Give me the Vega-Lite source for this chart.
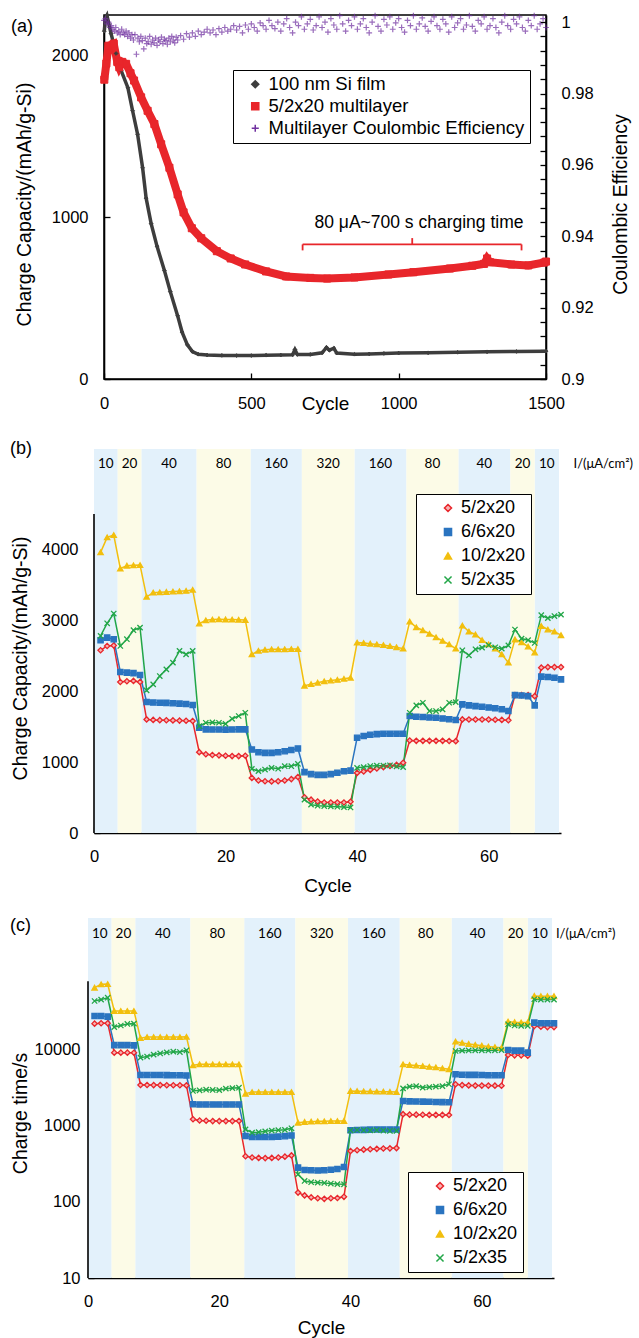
{
"$schema": "https://vega.github.io/schema/vega-lite/v6.json",
"background": "white",
"padding": {"left": 0, "top": 7, "right": 2, "bottom": 2},
"spacing": 22,
"resolve": {"scale": {"stroke": "independent", "fill": "independent", "shape": "independent"}, "legend": {"stroke": "independent", "fill": "independent", "shape": "independent"}},
"config": {
  "font": "Liberation Sans",
  "view": {"stroke": null},
  "axis": {"grid": false, "domainColor": "black", "domainWidth": 1.6, "tickColor": "black", "tickWidth": 1.3, "tickSize": -6, "labelColor": "black", "labelFontSize": 16.5, "labelFont": "Liberation Sans", "titleFont": "Liberation Sans", "titleFontSize": 19, "titleFontWeight": "normal", "titleColor": "black", "labelFlush": false, "labelOverlap": false},
  "legend": {"strokeColor": "black", "fillColor": "white", "padding": 5, "labelFontSize": 18, "labelFont": "Liberation Sans", "labelColor": "black", "symbolStrokeWidth": 1.5, "symbolSize": 50, "rowPadding": 6, "labelLimit": 400},
  "title": {"anchor": "start", "frame": "group", "fontSize": 18, "fontWeight": "normal", "baseline": "bottom", "font": "Liberation Sans", "color": "black"}
},
"datasets": {
  "capA": [
    {"cycle":1,"cap":2150,"series":"100 nm Si film"},{"cycle":5,"cap":2230,"series":"100 nm Si film"},{"cycle":10,"cap":2248,"series":"100 nm Si film"},{"cycle":24,"cap":2135,"series":"100 nm Si film"},{"cycle":41,"cap":2012,"series":"100 nm Si film"},{"cycle":58,"cap":1907,"series":"100 nm Si film"},{"cycle":81,"cap":1801,"series":"100 nm Si film"},{"cycle":97,"cap":1658,"series":"100 nm Si film"},{"cycle":114,"cap":1513,"series":"100 nm Si film"},{"cycle":131,"cap":1306,"series":"100 nm Si film"},{"cycle":143,"cap":1118,"series":"100 nm Si film"},{"cycle":160,"cap":960,"series":"100 nm Si film"},{"cycle":180,"cap":820,"series":"100 nm Si film"},{"cycle":205,"cap":670,"series":"100 nm Si film"},{"cycle":225,"cap":540,"series":"100 nm Si film"},{"cycle":250,"cap":390,"series":"100 nm Si film"},{"cycle":265,"cap":290,"series":"100 nm Si film"},{"cycle":283,"cap":211,"series":"100 nm Si film"},{"cycle":300,"cap":170,"series":"100 nm Si film"},{"cycle":320,"cap":153,"series":"100 nm Si film"},{"cycle":350,"cap":148,"series":"100 nm Si film"},{"cycle":400,"cap":146,"series":"100 nm Si film"},{"cycle":450,"cap":145,"series":"100 nm Si film"},{"cycle":500,"cap":145,"series":"100 nm Si film"},{"cycle":550,"cap":147,"series":"100 nm Si film"},{"cycle":600,"cap":148,"series":"100 nm Si film"},{"cycle":640,"cap":150,"series":"100 nm Si film"},{"cycle":648,"cap":182,"series":"100 nm Si film"},{"cycle":656,"cap":152,"series":"100 nm Si film"},{"cycle":700,"cap":152,"series":"100 nm Si film"},{"cycle":740,"cap":162,"series":"100 nm Si film"},{"cycle":755,"cap":195,"series":"100 nm Si film"},{"cycle":765,"cap":178,"series":"100 nm Si film"},{"cycle":780,"cap":190,"series":"100 nm Si film"},{"cycle":790,"cap":160,"series":"100 nm Si film"},{"cycle":850,"cap":153,"series":"100 nm Si film"},{"cycle":900,"cap":155,"series":"100 nm Si film"},{"cycle":950,"cap":158,"series":"100 nm Si film"},{"cycle":1000,"cap":160,"series":"100 nm Si film"},{"cycle":1100,"cap":162,"series":"100 nm Si film"},{"cycle":1200,"cap":165,"series":"100 nm Si film"},{"cycle":1300,"cap":168,"series":"100 nm Si film"},{"cycle":1400,"cap":170,"series":"100 nm Si film"},{"cycle":1500,"cap":172,"series":"100 nm Si film"},
    {"cycle":1,"cap":1850,"series":"5/2x20 multilayer"},{"cycle":8,"cap":1950,"series":"5/2x20 multilayer"},{"cycle":15,"cap":2060,"series":"5/2x20 multilayer"},{"cycle":33,"cap":2073,"series":"5/2x20 multilayer"},{"cycle":45,"cap":1960,"series":"5/2x20 multilayer"},{"cycle":52,"cap":1927,"series":"5/2x20 multilayer"},{"cycle":62,"cap":1960,"series":"5/2x20 multilayer"},{"cycle":75,"cap":1948,"series":"5/2x20 multilayer"},{"cycle":90,"cap":1890,"series":"5/2x20 multilayer"},{"cycle":102,"cap":1845,"series":"5/2x20 multilayer"},{"cycle":126,"cap":1741,"series":"5/2x20 multilayer"},{"cycle":148,"cap":1658,"series":"5/2x20 multilayer"},{"cycle":171,"cap":1576,"series":"5/2x20 multilayer"},{"cycle":194,"cap":1451,"series":"5/2x20 multilayer"},{"cycle":222,"cap":1306,"series":"5/2x20 multilayer"},{"cycle":250,"cap":1141,"series":"5/2x20 multilayer"},{"cycle":270,"cap":1030,"series":"5/2x20 multilayer"},{"cycle":298,"cap":932,"series":"5/2x20 multilayer"},{"cycle":330,"cap":870,"series":"5/2x20 multilayer"},{"cycle":383,"cap":790,"series":"5/2x20 multilayer"},{"cycle":430,"cap":745,"series":"5/2x20 multilayer"},{"cycle":479,"cap":708,"series":"5/2x20 multilayer"},{"cycle":550,"cap":665,"series":"5/2x20 multilayer"},{"cycle":618,"cap":634,"series":"5/2x20 multilayer"},{"cycle":700,"cap":625,"series":"5/2x20 multilayer"},{"cycle":757,"cap":621,"series":"5/2x20 multilayer"},{"cycle":850,"cap":628,"series":"5/2x20 multilayer"},{"cycle":965,"cap":646,"series":"5/2x20 multilayer"},{"cycle":1050,"cap":660,"series":"5/2x20 multilayer"},{"cycle":1174,"cap":683,"series":"5/2x20 multilayer"},{"cycle":1250,"cap":700,"series":"5/2x20 multilayer"},{"cycle":1290,"cap":712,"series":"5/2x20 multilayer"},{"cycle":1300,"cap":745,"series":"5/2x20 multilayer"},{"cycle":1310,"cap":722,"series":"5/2x20 multilayer"},{"cycle":1382,"cap":708,"series":"5/2x20 multilayer"},{"cycle":1440,"cap":702,"series":"5/2x20 multilayer"},{"cycle":1494,"cap":720,"series":"5/2x20 multilayer"},{"cycle":1500,"cap":726,"series":"5/2x20 multilayer"}
  ],
  "ce": [
    {"c":0,"e":1.0005},{"c":5,"e":1.001},{"c":10,"e":0.9995},{"c":15,"e":1.0},{"c":20,"e":0.9985},{"c":25,"e":0.999},{"c":30,"e":0.998},{"c":35,"e":0.9975},{"c":40,"e":0.9985},{"c":45,"e":0.997},{"c":50,"e":0.9975},{"c":55,"e":0.9965},{"c":60,"e":0.998},{"c":65,"e":0.997},{"c":70,"e":0.9965},{"c":75,"e":0.9975},{"c":80,"e":0.996},{"c":85,"e":0.997},{"c":90,"e":0.9955},{"c":95,"e":0.9965},{"c":100,"e":0.995},{"c":105,"e":0.9965},{"c":110,"e":0.991},{"c":115,"e":0.9955},{"c":120,"e":0.9945},{"c":125,"e":0.996},{"c":130,"e":0.9948},{"c":135,"e":0.9925},{"c":140,"e":0.9955},{"c":145,"e":0.994},{"c":150,"e":0.9945},{"c":155,"e":0.996},{"c":160,"e":0.9938},{"c":165,"e":0.995},{"c":170,"e":0.9942},{"c":175,"e":0.9955},{"c":180,"e":0.9935},{"c":185,"e":0.995},{"c":190,"e":0.9945},{"c":195,"e":0.9958},{"c":200,"e":0.994},{"c":205,"e":0.9952},{"c":210,"e":0.9948},{"c":215,"e":0.9938},{"c":220,"e":0.9955},{"c":225,"e":0.9945},{"c":230,"e":0.996},{"c":235,"e":0.995},{"c":240,"e":0.9942},{"c":245,"e":0.9958},{"c":250,"e":0.995},{"c":260,"e":0.9962},{"c":270,"e":0.9952},{"c":280,"e":0.9968},{"c":290,"e":0.9958},{"c":300,"e":0.997},{"c":310,"e":0.996},{"c":320,"e":0.9975},{"c":330,"e":0.9965},{"c":340,"e":0.9972},{"c":350,"e":0.998},{"c":360,"e":0.997},{"c":370,"e":0.9978},{"c":380,"e":0.9965},{"c":390,"e":0.9982},{"c":400,"e":0.9972},{"c":410,"e":0.9985},{"c":420,"e":0.9975},{"c":430,"e":0.998},{"c":440,"e":0.999},{"c":450,"e":0.9978},{"c":460,"e":0.9988},{"c":470,"e":0.997},{"c":480,"e":0.9992},{"c":490,"e":0.998},{"c":500,"e":0.9995},{"c":510,"e":0.9985},{"c":520,"e":0.9975},{"c":530,"e":0.9998},{"c":540,"e":0.999},{"c":550,"e":0.998},{"c":560,"e":1.0005},{"c":570,"e":0.999},{"c":580,"e":0.9982},{"c":590,"e":1.0},{"c":600,"e":0.9975},{"c":610,"e":0.9995},{"c":620,"e":1.001},{"c":630,"e":0.9985},{"c":640,"e":0.997},{"c":650,"e":1.0},{"c":660,"e":0.999},{"c":670,"e":1.0015},{"c":680,"e":0.998},{"c":690,"e":0.9995},{"c":700,"e":1.0008},{"c":710,"e":0.9978},{"c":720,"e":0.999},{"c":730,"e":1.0015},{"c":740,"e":0.9985},{"c":750,"e":1.0},{"c":760,"e":0.9972},{"c":770,"e":1.001},{"c":780,"e":0.9992},{"c":790,"e":0.998},{"c":800,"e":1.0018},{"c":810,"e":0.9995},{"c":820,"e":0.9975},{"c":830,"e":1.0005},{"c":840,"e":0.999},{"c":850,"e":1.0015},{"c":860,"e":0.998},{"c":870,"e":0.9995},{"c":880,"e":1.001},{"c":890,"e":0.9985},{"c":900,"e":0.997},{"c":910,"e":1.0},{"c":920,"e":1.0018},{"c":930,"e":0.9988},{"c":940,"e":0.9975},{"c":950,"e":1.0008},{"c":960,"e":0.9992},{"c":970,"e":1.0015},{"c":980,"e":0.998},{"c":990,"e":0.9998},{"c":1000,"e":1.001},{"c":1010,"e":0.9985},{"c":1020,"e":0.9972},{"c":1030,"e":1.0005},{"c":1040,"e":0.999},{"c":1050,"e":1.0018},{"c":1060,"e":0.998},{"c":1070,"e":0.9995},{"c":1080,"e":1.0012},{"c":1090,"e":0.9988},{"c":1100,"e":0.9975},{"c":1110,"e":1.0002},{"c":1120,"e":1.0015},{"c":1130,"e":0.999},{"c":1140,"e":0.998},{"c":1150,"e":1.0008},{"c":1160,"e":0.9995},{"c":1170,"e":0.9972},{"c":1180,"e":1.0015},{"c":1190,"e":0.9985},{"c":1200,"e":0.9998},{"c":1210,"e":1.001},{"c":1220,"e":0.998},{"c":1230,"e":0.9992},{"c":1240,"e":1.0018},{"c":1250,"e":0.9988},{"c":1260,"e":0.9975},{"c":1270,"e":1.0005},{"c":1280,"e":0.9995},{"c":1290,"e":1.0015},{"c":1300,"e":0.998},{"c":1310,"e":0.999},{"c":1320,"e":1.001},{"c":1330,"e":0.9985},{"c":1340,"e":0.997},{"c":1350,"e":1.0},{"c":1360,"e":1.0018},{"c":1370,"e":0.999},{"c":1380,"e":0.998},{"c":1390,"e":1.0008},{"c":1400,"e":0.9995},{"c":1410,"e":1.0015},{"c":1420,"e":0.9985},{"c":1430,"e":0.9975},{"c":1440,"e":1.0005},{"c":1450,"e":0.999},{"c":1460,"e":1.0018},{"c":1470,"e":0.998},{"c":1480,"e":0.9995},{"c":1490,"e":1.001},{"c":1500,"e":0.9985}
  ],
  "bracket": [
    {"c1":674,"c2":1417,"v1":832,"v2":832},{"c1":674,"c2":674,"v1":832,"v2":795},{"c1":1417,"c2":1417,"v1":832,"v2":795},{"c1":1046,"c2":1046,"v1":832,"v2":871}
  ],
  "bands": [
    {"start":0,"end":3.6,"mid":1.8,"I":"10","kind":"b"},{"start":3.6,"end":7.2,"mid":5.4,"I":"20","kind":"y"},{"start":7.2,"end":15.6,"mid":11.4,"I":"40","kind":"b"},{"start":15.6,"end":23.8,"mid":19.7,"I":"80","kind":"y"},{"start":23.8,"end":31.6,"mid":27.7,"I":"160","kind":"b"},{"start":31.6,"end":39.6,"mid":35.6,"I":"320","kind":"y"},{"start":39.6,"end":47.5,"mid":43.55,"I":"160","kind":"b"},{"start":47.5,"end":55.4,"mid":51.45,"I":"80","kind":"y"},{"start":55.4,"end":63.3,"mid":59.35,"I":"40","kind":"b"},{"start":63.3,"end":67.0,"mid":65.15,"I":"20","kind":"y"},{"start":67.0,"end":70.7,"mid":68.85,"I":"10","kind":"b"}
  ],
  "tabB": [
    {"cycle":1,"5/2x20":2577,"6/6x20":2718,"10/2x20":3958,"5/2x35":2780},
    {"cycle":2,"5/2x20":2638,"6/6x20":2756,"10/2x20":4170,"5/2x35":2958},
    {"cycle":3,"5/2x20":2645,"6/6x20":2733,"10/2x20":4202,"5/2x35":3095},
    {"cycle":4,"5/2x20":2130,"6/6x20":2271,"10/2x20":3731,"5/2x35":2638},
    {"cycle":5,"5/2x20":2140,"6/6x20":2262,"10/2x20":3770,"5/2x35":2733},
    {"cycle":6,"5/2x20":2145,"6/6x20":2255,"10/2x20":3775,"5/2x35":2860},
    {"cycle":7,"5/2x20":2130,"6/6x20":2229,"10/2x20":3780,"5/2x35":2897},
    {"cycle":8,"5/2x20":1602,"6/6x20":1847,"10/2x20":3331,"5/2x35":2011},
    {"cycle":9,"5/2x20":1595,"6/6x20":1840,"10/2x20":3390,"5/2x35":2096},
    {"cycle":10,"5/2x20":1592,"6/6x20":1838,"10/2x20":3395,"5/2x35":2214},
    {"cycle":11,"5/2x20":1590,"6/6x20":1835,"10/2x20":3400,"5/2x35":2308},
    {"cycle":12,"5/2x20":1588,"6/6x20":1830,"10/2x20":3405,"5/2x35":2403},
    {"cycle":13,"5/2x20":1585,"6/6x20":1825,"10/2x20":3410,"5/2x35":2568},
    {"cycle":14,"5/2x20":1583,"6/6x20":1820,"10/2x20":3415,"5/2x35":2520},
    {"cycle":15,"5/2x20":1580,"6/6x20":1805,"10/2x20":3430,"5/2x35":2568},
    {"cycle":16,"5/2x20":1140,"6/6x20":1484,"10/2x20":2954,"5/2x35":1508},
    {"cycle":17,"5/2x20":1110,"6/6x20":1462,"10/2x20":3000,"5/2x35":1555},
    {"cycle":18,"5/2x20":1100,"6/6x20":1460,"10/2x20":3010,"5/2x35":1560},
    {"cycle":19,"5/2x20":1095,"6/6x20":1460,"10/2x20":3015,"5/2x35":1555},
    {"cycle":20,"5/2x20":1090,"6/6x20":1458,"10/2x20":3012,"5/2x35":1540},
    {"cycle":21,"5/2x20":1085,"6/6x20":1460,"10/2x20":3010,"5/2x35":1611},
    {"cycle":22,"5/2x20":1085,"6/6x20":1462,"10/2x20":3008,"5/2x35":1650},
    {"cycle":23,"5/2x20":1090,"6/6x20":1462,"10/2x20":3005,"5/2x35":1696},
    {"cycle":24,"5/2x20":777,"6/6x20":1177,"10/2x20":2520,"5/2x35":905},
    {"cycle":25,"5/2x20":740,"6/6x20":1140,"10/2x20":2570,"5/2x35":872},
    {"cycle":26,"5/2x20":730,"6/6x20":1130,"10/2x20":2585,"5/2x35":895},
    {"cycle":27,"5/2x20":728,"6/6x20":1130,"10/2x20":2590,"5/2x35":919},
    {"cycle":28,"5/2x20":730,"6/6x20":1140,"10/2x20":2590,"5/2x35":906},
    {"cycle":29,"5/2x20":740,"6/6x20":1154,"10/2x20":2592,"5/2x35":942},
    {"cycle":30,"5/2x20":760,"6/6x20":1170,"10/2x20":2595,"5/2x35":942},
    {"cycle":31,"5/2x20":790,"6/6x20":1192,"10/2x20":2595,"5/2x35":975},
    {"cycle":32,"5/2x20":504,"6/6x20":858,"10/2x20":2077,"5/2x35":471},
    {"cycle":33,"5/2x20":470,"6/6x20":830,"10/2x20":2100,"5/2x35":400},
    {"cycle":34,"5/2x20":445,"6/6x20":820,"10/2x20":2120,"5/2x35":385},
    {"cycle":35,"5/2x20":430,"6/6x20":820,"10/2x20":2140,"5/2x35":380},
    {"cycle":36,"5/2x20":430,"6/6x20":830,"10/2x20":2150,"5/2x35":375},
    {"cycle":37,"5/2x20":430,"6/6x20":850,"10/2x20":2160,"5/2x35":370},
    {"cycle":38,"5/2x20":430,"6/6x20":870,"10/2x20":2175,"5/2x35":365},
    {"cycle":39,"5/2x20":440,"6/6x20":880,"10/2x20":2190,"5/2x35":360},
    {"cycle":40,"5/2x20":848,"6/6x20":1343,"10/2x20":2685,"5/2x35":919},
    {"cycle":41,"5/2x20":868,"6/6x20":1367,"10/2x20":2680,"5/2x35":930},
    {"cycle":42,"5/2x20":890,"6/6x20":1385,"10/2x20":2670,"5/2x35":945},
    {"cycle":43,"5/2x20":910,"6/6x20":1395,"10/2x20":2660,"5/2x35":950},
    {"cycle":44,"5/2x20":930,"6/6x20":1400,"10/2x20":2650,"5/2x35":950},
    {"cycle":45,"5/2x20":945,"6/6x20":1400,"10/2x20":2635,"5/2x35":955},
    {"cycle":46,"5/2x20":960,"6/6x20":1400,"10/2x20":2620,"5/2x35":940},
    {"cycle":47,"5/2x20":990,"6/6x20":1400,"10/2x20":2600,"5/2x35":930},
    {"cycle":48,"5/2x20":1305,"6/6x20":1650,"10/2x20":2982,"5/2x35":1696},
    {"cycle":49,"5/2x20":1300,"6/6x20":1640,"10/2x20":2900,"5/2x35":1800},
    {"cycle":50,"5/2x20":1300,"6/6x20":1635,"10/2x20":2860,"5/2x35":1837},
    {"cycle":51,"5/2x20":1300,"6/6x20":1630,"10/2x20":2810,"5/2x35":1720},
    {"cycle":52,"5/2x20":1300,"6/6x20":1625,"10/2x20":2760,"5/2x35":1720},
    {"cycle":53,"5/2x20":1300,"6/6x20":1615,"10/2x20":2710,"5/2x35":1743},
    {"cycle":54,"5/2x20":1298,"6/6x20":1605,"10/2x20":2660,"5/2x35":1837},
    {"cycle":55,"5/2x20":1295,"6/6x20":1593,"10/2x20":2600,"5/2x35":1846},
    {"cycle":56,"5/2x20":1602,"6/6x20":1814,"10/2x20":2926,"5/2x35":2577},
    {"cycle":57,"5/2x20":1600,"6/6x20":1800,"10/2x20":2840,"5/2x35":2506},
    {"cycle":58,"5/2x20":1600,"6/6x20":1790,"10/2x20":2800,"5/2x35":2591},
    {"cycle":59,"5/2x20":1600,"6/6x20":1780,"10/2x20":2720,"5/2x35":2615},
    {"cycle":60,"5/2x20":1600,"6/6x20":1770,"10/2x20":2660,"5/2x35":2650},
    {"cycle":61,"5/2x20":1598,"6/6x20":1760,"10/2x20":2600,"5/2x35":2620},
    {"cycle":62,"5/2x20":1595,"6/6x20":1745,"10/2x20":2520,"5/2x35":2600},
    {"cycle":63,"5/2x20":1590,"6/6x20":1720,"10/2x20":2403,"5/2x35":2645},
    {"cycle":64,"5/2x20":1944,"6/6x20":1944,"10/2x20":2730,"5/2x35":2870},
    {"cycle":65,"5/2x20":1944,"6/6x20":1940,"10/2x20":2690,"5/2x35":2742},
    {"cycle":66,"5/2x20":1944,"6/6x20":1930,"10/2x20":2630,"5/2x35":2720},
    {"cycle":67,"5/2x20":1930,"6/6x20":1800,"10/2x20":2545,"5/2x35":2680},
    {"cycle":68,"5/2x20":2332,"6/6x20":2205,"10/2x20":2920,"5/2x35":3072},
    {"cycle":69,"5/2x20":2340,"6/6x20":2200,"10/2x20":2870,"5/2x35":3030},
    {"cycle":70,"5/2x20":2340,"6/6x20":2190,"10/2x20":2840,"5/2x35":3060},
    {"cycle":71,"5/2x20":2340,"6/6x20":2167,"10/2x20":2790,"5/2x35":3080}
  ],
  "tabC": [
    {"cycle":1,"5/2x20":22200,"6/6x20":28000,"10/2x20":66000,"5/2x35":44100},
    {"cycle":2,"5/2x20":22500,"6/6x20":28000,"10/2x20":73000,"5/2x35":46000},
    {"cycle":3,"5/2x20":22500,"6/6x20":27500,"10/2x20":73500,"5/2x35":48700},
    {"cycle":4,"5/2x20":9220,"6/6x20":11600,"10/2x20":32600,"5/2x35":20000},
    {"cycle":5,"5/2x20":9220,"6/6x20":11600,"10/2x20":32600,"5/2x35":21000},
    {"cycle":6,"5/2x20":9220,"6/6x20":11600,"10/2x20":32600,"5/2x35":22000},
    {"cycle":7,"5/2x20":9200,"6/6x20":11500,"10/2x20":32600,"5/2x35":22200},
    {"cycle":8,"5/2x20":3460,"6/6x20":4690,"10/2x20":14300,"5/2x35":7920},
    {"cycle":9,"5/2x20":3460,"6/6x20":4690,"10/2x20":14800,"5/2x35":8200},
    {"cycle":10,"5/2x20":3450,"6/6x20":4680,"10/2x20":14800,"5/2x35":8700},
    {"cycle":11,"5/2x20":3450,"6/6x20":4680,"10/2x20":14800,"5/2x35":9000},
    {"cycle":12,"5/2x20":3440,"6/6x20":4670,"10/2x20":14800,"5/2x35":9300},
    {"cycle":13,"5/2x20":3440,"6/6x20":4660,"10/2x20":14800,"5/2x35":9500},
    {"cycle":14,"5/2x20":3430,"6/6x20":4650,"10/2x20":14800,"5/2x35":9400},
    {"cycle":15,"5/2x20":3420,"6/6x20":4620,"10/2x20":14900,"5/2x35":9910},
    {"cycle":16,"5/2x20":1225,"6/6x20":1930,"10/2x20":6290,"5/2x35":2890},
    {"cycle":17,"5/2x20":1180,"6/6x20":1920,"10/2x20":6480,"5/2x35":2950},
    {"cycle":18,"5/2x20":1170,"6/6x20":1920,"10/2x20":6480,"5/2x35":3000},
    {"cycle":19,"5/2x20":1160,"6/6x20":1920,"10/2x20":6480,"5/2x35":2980},
    {"cycle":20,"5/2x20":1160,"6/6x20":1920,"10/2x20":6480,"5/2x35":2960},
    {"cycle":21,"5/2x20":1160,"6/6x20":1920,"10/2x20":6480,"5/2x35":3100},
    {"cycle":22,"5/2x20":1160,"6/6x20":1920,"10/2x20":6480,"5/2x35":3150},
    {"cycle":23,"5/2x20":1165,"6/6x20":1920,"10/2x20":6480,"5/2x35":3190},
    {"cycle":24,"5/2x20":400,"6/6x20":740,"10/2x20":2660,"5/2x35":904},
    {"cycle":25,"5/2x20":385,"6/6x20":720,"10/2x20":2800,"5/2x35":816},
    {"cycle":26,"5/2x20":380,"6/6x20":720,"10/2x20":2800,"5/2x35":830},
    {"cycle":27,"5/2x20":378,"6/6x20":715,"10/2x20":2800,"5/2x35":850},
    {"cycle":28,"5/2x20":380,"6/6x20":720,"10/2x20":2800,"5/2x35":870},
    {"cycle":29,"5/2x20":385,"6/6x20":725,"10/2x20":2800,"5/2x35":880},
    {"cycle":30,"5/2x20":395,"6/6x20":735,"10/2x20":2800,"5/2x35":890},
    {"cycle":31,"5/2x20":410,"6/6x20":750,"10/2x20":2800,"5/2x35":933},
    {"cycle":32,"5/2x20":133,"6/6x20":283,"10/2x20":1105,"5/2x35":231},
    {"cycle":33,"5/2x20":122,"6/6x20":264,"10/2x20":1130,"5/2x35":189},
    {"cycle":34,"5/2x20":115,"6/6x20":262,"10/2x20":1140,"5/2x35":182},
    {"cycle":35,"5/2x20":112,"6/6x20":260,"10/2x20":1150,"5/2x35":180},
    {"cycle":36,"5/2x20":110,"6/6x20":262,"10/2x20":1150,"5/2x35":178},
    {"cycle":37,"5/2x20":112,"6/6x20":266,"10/2x20":1160,"5/2x35":175},
    {"cycle":38,"5/2x20":113,"6/6x20":272,"10/2x20":1160,"5/2x35":172},
    {"cycle":39,"5/2x20":117,"6/6x20":289,"10/2x20":1165,"5/2x35":171},
    {"cycle":40,"5/2x20":469,"6/6x20":878,"10/2x20":2890,"5/2x35":878},
    {"cycle":41,"5/2x20":480,"6/6x20":885,"10/2x20":2870,"5/2x35":885},
    {"cycle":42,"5/2x20":488,"6/6x20":890,"10/2x20":2860,"5/2x35":880},
    {"cycle":43,"5/2x20":495,"6/6x20":895,"10/2x20":2850,"5/2x35":875},
    {"cycle":44,"5/2x20":500,"6/6x20":900,"10/2x20":2840,"5/2x35":880},
    {"cycle":45,"5/2x20":505,"6/6x20":900,"10/2x20":2830,"5/2x35":870},
    {"cycle":46,"5/2x20":508,"6/6x20":900,"10/2x20":2820,"5/2x35":860},
    {"cycle":47,"5/2x20":512,"6/6x20":900,"10/2x20":2800,"5/2x35":860},
    {"cycle":48,"5/2x20":1430,"6/6x20":2130,"10/2x20":6460,"5/2x35":3130},
    {"cycle":49,"5/2x20":1410,"6/6x20":2110,"10/2x20":6350,"5/2x35":3300},
    {"cycle":50,"5/2x20":1410,"6/6x20":2100,"10/2x20":6250,"5/2x35":3350},
    {"cycle":51,"5/2x20":1405,"6/6x20":2090,"10/2x20":6150,"5/2x35":3200},
    {"cycle":52,"5/2x20":1400,"6/6x20":2080,"10/2x20":6000,"5/2x35":3250},
    {"cycle":53,"5/2x20":1400,"6/6x20":2070,"10/2x20":5900,"5/2x35":3300},
    {"cycle":54,"5/2x20":1400,"6/6x20":2060,"10/2x20":5750,"5/2x35":3350},
    {"cycle":55,"5/2x20":1395,"6/6x20":2050,"10/2x20":5570,"5/2x35":3540},
    {"cycle":56,"5/2x20":3540,"6/6x20":4790,"10/2x20":12900,"5/2x35":9700},
    {"cycle":57,"5/2x20":3450,"6/6x20":4720,"10/2x20":12400,"5/2x35":9800},
    {"cycle":58,"5/2x20":3420,"6/6x20":4700,"10/2x20":12000,"5/2x35":9850},
    {"cycle":59,"5/2x20":3400,"6/6x20":4700,"10/2x20":11700,"5/2x35":9900},
    {"cycle":60,"5/2x20":3400,"6/6x20":4680,"10/2x20":11400,"5/2x35":9900},
    {"cycle":61,"5/2x20":3400,"6/6x20":4660,"10/2x20":11100,"5/2x35":9850},
    {"cycle":62,"5/2x20":3390,"6/6x20":4650,"10/2x20":10900,"5/2x35":9900},
    {"cycle":63,"5/2x20":3380,"6/6x20":4640,"10/2x20":10700,"5/2x35":9950},
    {"cycle":64,"5/2x20":8600,"6/6x20":10000,"10/2x20":23600,"5/2x35":21800},
    {"cycle":65,"5/2x20":8500,"6/6x20":9800,"10/2x20":23200,"5/2x35":21000},
    {"cycle":66,"5/2x20":8500,"6/6x20":9800,"10/2x20":23000,"5/2x35":20800},
    {"cycle":67,"5/2x20":8400,"6/6x20":9230,"10/2x20":23000,"5/2x35":20800},
    {"cycle":68,"5/2x20":20700,"6/6x20":22900,"10/2x20":51400,"5/2x35":46500},
    {"cycle":69,"5/2x20":20200,"6/6x20":22500,"10/2x20":51000,"5/2x35":46000},
    {"cycle":70,"5/2x20":20000,"6/6x20":22500,"10/2x20":51000,"5/2x35":46000},
    {"cycle":71,"5/2x20":20000,"6/6x20":22500,"10/2x20":51000,"5/2x35":46000}
  ]
},
"vconcat": [
 {"hconcat": [
  {"width": 10, "height": 2, "data": {"values": [{}]}, "mark": {"type": "rect", "opacity": 0}, "encoding": {}},
  {
    "width": 442, "height": 364,
    "title": {"text": "(a)", "dx": -93, "offset": -28},
    "view": {"stroke": "black", "strokeWidth": 1.5},
    "layer": [
      {"layer": [
        {"data": {"name": "capA"}, "transform": [{"filter": "datum.series === '100 nm Si film'"}], "mark": {"type": "line", "color": "#3d3d3d", "strokeWidth": 3.5},
         "encoding": {
           "x": {"field": "cycle", "type": "quantitative", "title": "Cycle", "scale": {"domain": [0, 1500], "nice": false},
                 "axis": {"values": [0,500,1000,1500], "format": "d", "labelOverlap": false, "labelPadding": 22, "titleY": 24, "titleBaseline": "middle"}},
           "y": {"field": "cap", "type": "quantitative", "title": "Charge Capacity/(mAh/g-Si)", "scale": {"domain": [0, 2250], "nice": false},
                 "axis": {"values": [0,1000,2000], "format": "d", "labelOverlap": false, "labelPadding": 22, "titleX": -80, "titleY": 189, "titleBaseline": "middle", "titleAlign": "center", "titleAngle": -90, "titleFontSize": 19.5}}
         }},
        {"data": {"name": "capA"}, "transform": [{"filter": "datum.series === '5/2x20 multilayer'"}], "mark": {"type": "line", "color": "#e8262b", "strokeWidth": 8},
         "encoding": {"x": {"field": "cycle", "type": "quantitative", "title": "Cycle"}, "y": {"field": "cap", "type": "quantitative", "title": "Charge Capacity/(mAh/g-Si)"}}},
        {"data": {"name": "capA"}, "transform": [{"filter": "datum.series === '100 nm Si film'"}], "mark": {"type": "point", "filled": true, "strokeWidth": 1, "opacity": 1, "size": 14},
         "encoding": {
           "x": {"field": "cycle", "type": "quantitative", "title": "Cycle"},
           "y": {"field": "cap", "type": "quantitative", "title": "Charge Capacity/(mAh/g-Si)"},
           "stroke": {"field": "series", "type": "nominal", "scale": {"domain": ["100 nm Si film", "5/2x20 multilayer", "Multilayer Coulombic Efficiency"], "range": ["#3d3d3d", "#e8262b", "#7030a0"]}, "legend": {"orient": "none", "legendX": 129, "legendY": 55, "title": null, "symbolOffset": 8, "rowPadding": 3, "padding": 5, "labelFontSize": 18.5}},
           "fill": {"field": "series", "type": "nominal", "scale": {"domain": ["100 nm Si film", "5/2x20 multilayer", "Multilayer Coulombic Efficiency"], "range": ["#3d3d3d", "#e8262b", "#7030a0"]}, "legend": {"orient": "none", "legendX": 129, "legendY": 55, "title": null, "symbolOffset": 8, "rowPadding": 3, "padding": 5, "labelFontSize": 18.5}},
           "shape": {"field": "series", "type": "nominal", "scale": {"domain": ["100 nm Si film", "5/2x20 multilayer", "Multilayer Coulombic Efficiency"], "range": ["diamond", "square", "M-1,0L1,0M0,-1L0,1"]}, "legend": {"orient": "none", "legendX": 129, "legendY": 55, "title": null, "symbolOffset": 8, "rowPadding": 3, "padding": 5, "labelFontSize": 18.5}}
         }},
        {"data": {"name": "capA"}, "transform": [{"filter": "datum.series === '5/2x20 multilayer'"}], "mark": {"type": "point", "filled": true, "strokeWidth": 1, "opacity": 1, "size": 50},
         "encoding": {
           "x": {"field": "cycle", "type": "quantitative", "title": "Cycle"},
           "y": {"field": "cap", "type": "quantitative", "title": "Charge Capacity/(mAh/g-Si)"},
           "stroke": {"field": "series", "type": "nominal"},
           "fill": {"field": "series", "type": "nominal"},
           "shape": {"field": "series", "type": "nominal"}
         }},
        {"data": {"name": "bracket"}, "mark": {"type": "rule", "color": "#e8262b", "strokeWidth": 1.8},
         "encoding": {
           "x": {"field": "c1", "type": "quantitative", "title": "Cycle"}, "x2": {"field": "c2"},
           "y": {"field": "v1", "type": "quantitative", "title": "Charge Capacity/(mAh/g-Si)"}, "y2": {"field": "v2"}
         }},
        {"data": {"values": [{}]}, "mark": {"type": "text", "fontSize": 17.5, "color": "black", "font": "Liberation Sans"},
         "encoding": {"x": {"datum": 1069}, "y": {"datum": 965}, "text": {"value": "80 μA~700 s charging time"}}}
      ]},
      {"data": {"name": "ce"}, "mark": {"type": "point", "filled": false, "strokeWidth": 1.2, "size": 34},
       "encoding": {
         "x": {"field": "c", "type": "quantitative", "title": "Cycle"},
         "y": {"field": "e", "type": "quantitative", "title": "Coulombic Efficiency", "scale": {"domain": [0.9, 1.002], "nice": false},
               "axis": {"orient": "right", "values": [0.9,0.904,0.908,0.912,0.916,0.92,0.924,0.928,0.932,0.936,0.94,0.944,0.948,0.952,0.956,0.96,0.964,0.968,0.972,0.976,0.98,0.984,0.988,0.992,0.996,1], "labelOverlap": false, "labelExpr": "abs(datum.value*50 - round(datum.value*50)) < 0.01 ? format(datum.value, '.2~f') : ''", "labelPadding": 21, "titleX": 74, "titleY": 189, "titleBaseline": "middle", "titleAlign": "center", "titleAngle": -90, "titleFontSize": 19.5}},
         "stroke": {"datum": "Multilayer Coulombic Efficiency", "type": "nominal"},
         "shape": {"datum": "Multilayer Coulombic Efficiency", "type": "nominal"}
       }}
    ],
    "resolve": {"scale": {"y": "independent"}}
  }],
  "spacing": 0,
  "resolve": {"scale": {"stroke": "independent", "fill": "independent", "shape": "independent"}, "legend": {"stroke": "independent", "fill": "independent", "shape": "independent"}}
 },
 {"hconcat": [
  {"width": 10, "height": 2, "title": {"text": " ", "offset": -5}, "data": {"values": [{}]}, "mark": {"type": "rect", "opacity": 0}, "encoding": {}},
  {
    "width": 467, "height": 384,
    "title": {"text": "(b)", "dx": -84, "offset": -9},
    "layer": [
      {"data": {"name": "bands"}, "transform": [{"filter": "datum.kind === 'b'"}], "mark": {"type": "rect", "color": "#e3f1fb"},
       "encoding": {"x": {"field": "start", "type": "quantitative", "title": "Cycle", "scale": {"domain": [0, 71], "nice": false},
                          "axis": {"values": [0,20,40,60], "format": "d", "labelOverlap": false, "labelPadding": 21, "titleY": 52, "titleBaseline": "middle"}},
                    "x2": {"field": "end"}}},
      {"data": {"name": "bands"}, "transform": [{"filter": "datum.kind === 'y'"}], "mark": {"type": "rect", "color": "#fcfbe7"},
       "encoding": {"x": {"field": "start", "type": "quantitative", "title": "Cycle"}, "x2": {"field": "end"}}},
      {"data": {"name": "bands"}, "mark": {"type": "text", "font": "Lato", "fontSize": 13.5, "color": "black"},
       "encoding": {"x": {"field": "mid", "type": "quantitative", "title": "Cycle"}, "y": {"datum": 5204}, "text": {"field": "I"}}},
      {"data": {"values": [{}]}, "mark": {"type": "text", "font": "Lato", "fontSize": 13, "color": "black", "align": "left"},
       "encoding": {"x": {"datum": 72.9}, "y": {"datum": 5204}, "text": {"value": "I/(μA/cm²)"}}},
      {"data": {"values": [{}]}, "mark": {"type": "rule", "color": "black", "strokeWidth": 1.6},
       "encoding": {"x": {"datum": 0}, "y": {"datum": 0}, "y2": {"datum": 4500}}},
      {"data": {"name": "tabB"}, "transform": [{"fold": ["5/2x20", "6/6x20", "10/2x20", "5/2x35"], "as": ["series", "cap"]}],
       "mark": {"type": "line", "strokeWidth": 1.5},
       "encoding": {
         "x": {"field": "cycle", "type": "quantitative", "title": "Cycle"},
         "y": {"field": "cap", "type": "quantitative", "title": "Charge Capacity/(mAh/g-Si)", "scale": {"domain": [0, 5416], "nice": false},
               "axis": {"values": [0,1000,2000,3000,4000], "format": "d", "domain": false, "labelOverlap": false, "labelPadding": 22, "titleX": -74, "titleY": 209, "titleBaseline": "middle", "titleAlign": "center", "titleAngle": -90, "titleFontSize": 19.5}},
         "stroke": {"field": "series", "type": "nominal", "scale": {"domain": ["5/2x20", "6/6x20", "10/2x20", "5/2x35"], "range": ["#e8262b", "#2a74c0", "#f2bf0e", "#22a648"]},
                    "legend": {"orient": "none", "legendX": 322, "legendY": 45, "title": null, "symbolOffset": 18}}
       }},
      {"data": {"name": "tabB"}, "transform": [{"fold": ["5/2x20", "6/6x20", "10/2x20", "5/2x35"], "as": ["series", "cap"]}],
       "mark": {"type": "point", "filled": true, "size": 28, "strokeWidth": 1.3, "opacity": 1},
       "encoding": {
         "x": {"field": "cycle", "type": "quantitative", "title": "Cycle"},
         "y": {"field": "cap", "type": "quantitative", "title": "Charge Capacity/(mAh/g-Si)"},
         "stroke": {"field": "series", "type": "nominal", "legend": {"orient": "none", "legendX": 322, "legendY": 45, "title": null, "symbolOffset": 18}},
         "fill": {"field": "series", "type": "nominal", "scale": {"domain": ["5/2x20", "6/6x20", "10/2x20", "5/2x35"], "range": ["#f7b2b2", "#2a74c0", "#f2bf0e", "#22a648"]}, "legend": {"orient": "none", "legendX": 322, "legendY": 45, "title": null, "symbolOffset": 18}},
         "shape": {"field": "series", "type": "nominal", "scale": {"domain": ["5/2x20", "6/6x20", "10/2x20", "5/2x35"], "range": ["diamond", "square", "triangle-up", "M-1,-1L1,1M-1,1L1,-1"]}, "legend": {"orient": "none", "legendX": 322, "legendY": 45, "title": null, "symbolOffset": 18}}
       }}
    ]
  }],
  "spacing": 0,
  "resolve": {"scale": {"stroke": "independent", "fill": "independent", "shape": "independent"}, "legend": {"stroke": "independent", "fill": "independent", "shape": "independent"}}
 },
 {"hconcat": [
  {"width": 10, "height": 2, "data": {"values": [{}]}, "mark": {"type": "rect", "opacity": 0}, "encoding": {}},
  {
    "width": 466, "height": 360,
    "title": {"text": "(c)", "dx": -78, "offset": -17},
    "layer": [
      {"data": {"name": "bands"}, "transform": [{"filter": "datum.kind === 'b'"}], "mark": {"type": "rect", "color": "#e3f1fb"},
       "encoding": {"x": {"field": "start", "type": "quantitative", "title": "Cycle", "scale": {"domain": [0, 71], "nice": false},
                          "axis": {"values": [0,20,40,60], "format": "d", "labelOverlap": false, "labelPadding": 21, "titleY": 49, "titleBaseline": "middle"}},
                    "x2": {"field": "end"}}},
      {"data": {"name": "bands"}, "transform": [{"filter": "datum.kind === 'y'"}], "mark": {"type": "rect", "color": "#fcfbe7"},
       "encoding": {"x": {"field": "start", "type": "quantitative", "title": "Cycle"}, "x2": {"field": "end"}}},
      {"data": {"name": "bands"}, "mark": {"type": "text", "font": "Lato", "fontSize": 13.5, "color": "black"},
       "encoding": {"x": {"field": "mid", "type": "quantitative", "title": "Cycle"}, "y": {"datum": 336000}, "text": {"field": "I"}}},
      {"data": {"values": [{}]}, "mark": {"type": "text", "font": "Lato", "fontSize": 13, "color": "black", "align": "left"},
       "encoding": {"x": {"datum": 71.3}, "y": {"datum": 336000}, "text": {"value": "I/(μA/cm²)"}}},
      {"data": {"values": [{}]}, "mark": {"type": "rule", "color": "black", "strokeWidth": 1.6},
       "encoding": {"x": {"datum": 0}, "y": {"datum": 10}, "y2": {"datum": 80000}}},
      {"data": {"name": "tabC"}, "transform": [{"fold": ["5/2x20", "6/6x20", "10/2x20", "5/2x35"], "as": ["series", "t"]}],
       "mark": {"type": "line", "strokeWidth": 1.5},
       "encoding": {
         "x": {"field": "cycle", "type": "quantitative", "title": "Cycle"},
         "y": {"field": "t", "type": "quantitative", "title": "Charge time/s", "scale": {"type": "log", "domain": [10, 545000], "nice": false},
               "axis": {"values": [10,100,1000,10000], "format": "d", "domain": false, "labelOverlap": false, "labelPadding": 14, "titleX": -68, "titleY": 195, "titleBaseline": "middle", "titleAlign": "center", "titleAngle": -90, "titleFontSize": 19.5}},
         "stroke": {"field": "series", "type": "nominal", "scale": {"domain": ["5/2x20", "6/6x20", "10/2x20", "5/2x35"], "range": ["#e8262b", "#2a74c0", "#f2bf0e", "#22a648"]},
                    "legend": {"orient": "none", "legendX": 320, "legendY": 254, "title": null, "symbolOffset": 18}}
       }},
      {"data": {"name": "tabC"}, "transform": [{"fold": ["5/2x20", "6/6x20", "10/2x20", "5/2x35"], "as": ["series", "t"]}],
       "mark": {"type": "point", "filled": true, "size": 28, "strokeWidth": 1.3, "opacity": 1},
       "encoding": {
         "x": {"field": "cycle", "type": "quantitative", "title": "Cycle"},
         "y": {"field": "t", "type": "quantitative", "title": "Charge time/s"},
         "stroke": {"field": "series", "type": "nominal", "legend": {"orient": "none", "legendX": 320, "legendY": 254, "title": null, "symbolOffset": 18}},
         "fill": {"field": "series", "type": "nominal", "scale": {"domain": ["5/2x20", "6/6x20", "10/2x20", "5/2x35"], "range": ["#f7b2b2", "#2a74c0", "#f2bf0e", "#22a648"]}, "legend": {"orient": "none", "legendX": 320, "legendY": 254, "title": null, "symbolOffset": 18}},
         "shape": {"field": "series", "type": "nominal", "scale": {"domain": ["5/2x20", "6/6x20", "10/2x20", "5/2x35"], "range": ["diamond", "square", "triangle-up", "M-1,-1L1,1M-1,1L1,-1"]}, "legend": {"orient": "none", "legendX": 320, "legendY": 254, "title": null, "symbolOffset": 18}}
       }}
    ]
  }],
  "spacing": 0,
  "resolve": {"scale": {"stroke": "independent", "fill": "independent", "shape": "independent"}, "legend": {"stroke": "independent", "fill": "independent", "shape": "independent"}}
 }
]
}
